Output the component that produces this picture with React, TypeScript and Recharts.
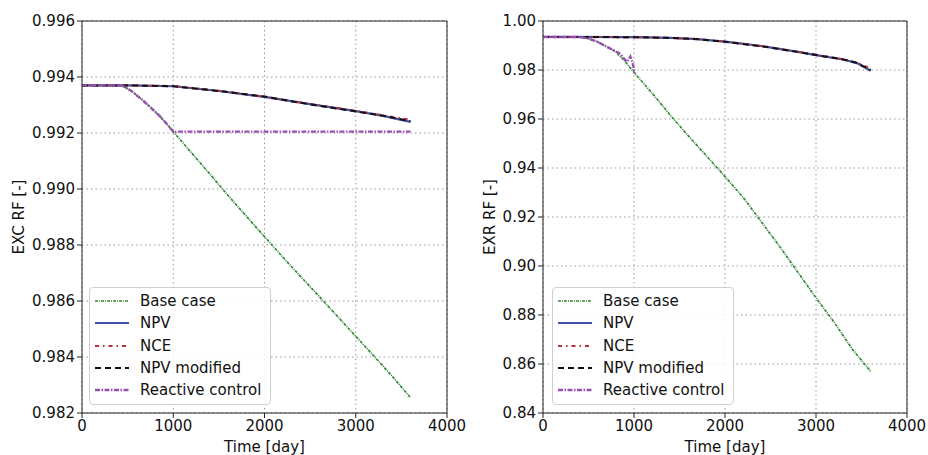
import { LineChart, Line, XAxis, YAxis, CartesianGrid, ReferenceLine, Legend } from 'recharts'

// time axis (days)
const timeTicks = [0, 1000, 2000, 3000, 4000]

// EXC RF (left panel)
const excTicks = [0.982, 0.984, 0.986, 0.988, 0.99, 0.992, 0.994, 0.996]
const excBaseT = [0, 400, 450, 550, 650, 750, 850, 925, 1000, 1200, 1400, 1600, 1800, 2000, 2200, 2400, 2600, 2800, 3000, 3200, 3400, 3600]
const excBaseV = [0.9937, 0.9937, 0.99368, 0.99348, 0.99321, 0.99292, 0.99261, 0.99234, 0.99205, 0.99129, 0.99054, 0.98977, 0.98903, 0.9883, 0.98757, 0.98686, 0.98616, 0.98545, 0.98474, 0.98403, 0.98331, 0.98255]
const excOptT = [0, 500, 1000, 1500, 2000, 2500, 3000, 3300, 3600]
const excNpvV = [0.9937, 0.9937, 0.99367, 0.9935, 0.99329, 0.99303, 0.99278, 0.99261, 0.9924]
const excNceV = [0.9937, 0.9937, 0.99368, 0.99351, 0.9933, 0.99304, 0.99279, 0.99263, 0.99247]
const excModV = [0.9937, 0.9937, 0.99367, 0.9935, 0.9933, 0.99302, 0.99277, 0.99262, 0.99242]
const excReactT = [0, 400, 450, 550, 650, 750, 850, 925, 1000, 2000, 3000, 3600]
const excReactV = [0.9937, 0.9937, 0.99368, 0.99348, 0.99321, 0.99292, 0.99261, 0.99234, 0.99205, 0.99205, 0.99205, 0.99205]

// EXR RF (right panel)
const exrTicks = [0.84, 0.86, 0.88, 0.9, 0.92, 0.94, 0.96, 0.98, 1.0]
const exrBaseT = [0, 400, 500, 600, 700, 800, 900, 1000, 1200, 1400, 1600, 1800, 2000, 2200, 2400, 2600, 2800, 3000, 3200, 3400, 3600]
const exrBaseV = [0.9935, 0.9935, 0.9928, 0.9915, 0.9895, 0.9874, 0.9836, 0.979, 0.9705, 0.9615, 0.953, 0.9448, 0.9365, 0.928, 0.918, 0.908, 0.8975, 0.887, 0.877, 0.866, 0.857]
const exrOptT = [0, 1000, 1400, 1700, 2000, 2400, 2800, 3000, 3300, 3450, 3600]
const exrNpvV = [0.9935, 0.9934, 0.9931, 0.9926, 0.9916, 0.9898, 0.9874, 0.9861, 0.9843, 0.9828, 0.9797]
const exrNceV = [0.9935, 0.9934, 0.9931, 0.9926, 0.9916, 0.9898, 0.9875, 0.9862, 0.9844, 0.983, 0.9806]
const exrModV = [0.9935, 0.9934, 0.9931, 0.9926, 0.9915, 0.9897, 0.9874, 0.9861, 0.9843, 0.9829, 0.98]
const exrReactT = [0, 400, 500, 600, 700, 800, 850, 885, 925, 960, 985, 1010]
const exrReactV = [0.9935, 0.9935, 0.9928, 0.9915, 0.9895, 0.9876, 0.9866, 0.9848, 0.9834, 0.9855, 0.9828, 0.9785]

const FONT = 'DejaVu Sans, sans-serif'

const styles = [
  { name: 'Base case', color: '#338833', width: 1.7, dash: '3 1 1 1' },
  { name: 'NPV', color: '#3f51a5', width: 2.2, dash: undefined },
  { name: 'NCE', color: '#b8303c', width: 2, dash: '4 4 1.5 4' },
  { name: 'NPV modified', color: '#111111', width: 2, dash: '6 4' },
  { name: 'Reactive control', color: '#9a4fb5', width: 2.4, dash: '5 1.5 1.5 1.5' },
]

const toPoints = (t: number[], v: number[]) => t.map((x, i) => ({ t: x, v: v[i] }))

function LegendBox() {
  return (
    <div
      style={{
        border: '1px solid #d0d0d0',
        borderRadius: 4,
        background: 'rgba(255,255,255,0.85)',
        padding: '2px 6px 3px 5px',
        fontFamily: FONT,
        fontSize: 15,
        color: '#111',
        whiteSpace: 'nowrap',
        boxSizing: 'border-box',
      }}
    >
      {styles.map((s) => (
        <div key={s.name} style={{ display: 'flex', alignItems: 'center', height: 22.3 }}>
          <svg width={34} height={10} style={{ marginRight: 11, flexShrink: 0 }}>
            <line x1={0} y1={5} x2={34} y2={5} stroke={s.color} strokeWidth={s.width} strokeDasharray={s.dash} />
          </svg>
          <span>{s.name}</span>
        </div>
      ))}
    </div>
  )
}

interface PanelProps {
  series: { t: number[]; v: number[] }[]
  yTicks: number[]
  digits: number
  yLabel: string
  yWidth: number
  rightMargin: number
  labelX: number
  legendLeft: number
}

function Panel({ series, yTicks, digits, yLabel, yWidth, rightMargin, labelX, legendLeft }: PanelProps) {
  const yMin = yTicks[0]
  const yMax = yTicks[yTicks.length - 1]
  const tick = { fontSize: 15, fill: '#111', fontFamily: FONT }
  return (
    <LineChart width={500} height={455} margin={{ top: 21, right: rightMargin, bottom: 0, left: 0 }}>
      <CartesianGrid strokeDasharray="1.5 3" stroke="#999" />
      <XAxis
        type="number"
        dataKey="t"
        domain={[0, 4000]}
        ticks={timeTicks}
        allowDataOverflow
        height={42}
        tick={tick}
        tickSize={5}
        stroke="#222"
        label={{ value: 'Time [day]', position: 'insideBottom', offset: 3, fontSize: 15, fill: '#111', fontFamily: FONT }}
      />
      <YAxis
        type="number"
        domain={[yMin, yMax]}
        ticks={yTicks}
        allowDataOverflow
        width={yWidth}
        tick={tick}
        tickSize={5}
        stroke="#222"
        tickFormatter={(v: number) => v.toFixed(digits)}
        label={(p: any) => {
          const vb = p.viewBox || {}
          const cy = (vb.y ?? 21) + (vb.height ?? 392) / 2
          return (
            <text
              x={labelX}
              y={cy}
              transform={`rotate(-90 ${labelX} ${cy})`}
              textAnchor="middle"
              dominantBaseline="central"
              fontSize={15}
              fill="#111"
              fontFamily={FONT}
            >
              {yLabel}
            </text>
          )
        }}
      />
      <ReferenceLine y={yMax} stroke="#222" />
      <ReferenceLine x={4000} stroke="#222" />
      {series.map((s, i) => (
        <Line
          key={styles[i].name}
          data={toPoints(s.t, s.v)}
          dataKey="v"
          name={styles[i].name}
          type="linear"
          stroke={styles[i].color}
          strokeWidth={styles[i].width}
          strokeDasharray={styles[i].dash}
          dot={false}
          isAnimationActive={false}
        />
      ))}
      <Legend
        layout="vertical"
        align="center"
        verticalAlign="middle"
        content={() => <LegendBox />}
        wrapperStyle={{ left: legendLeft, top: 287, width: 182, bottom: 'auto', right: 'auto' }}
      />
    </LineChart>
  )
}

export default function App() {
  return (
    <div style={{ position: 'absolute', left: 0, top: 0, width: 928, height: 455, background: '#fff', overflow: 'hidden' }}>
      <div style={{ position: 'absolute', left: 0, top: 0 }}>
        <Panel
          series={[
            { t: excBaseT, v: excBaseV },
            { t: excOptT, v: excNpvV },
            { t: excOptT, v: excNceV },
            { t: excOptT, v: excModV },
            { t: excReactT, v: excReactV },
          ]}
          yTicks={excTicks}
          digits={3}
          yLabel="EXC RF [-]"
          yWidth={82}
          rightMargin={53}
          labelX={19}
          legendLeft={89}
        />
      </div>
      <div style={{ position: 'absolute', left: 464, top: 0 }}>
        <Panel
          series={[
            { t: exrBaseT, v: exrBaseV },
            { t: exrOptT, v: exrNpvV },
            { t: exrOptT, v: exrNceV },
            { t: exrOptT, v: exrModV },
            { t: exrReactT, v: exrReactV },
          ]}
          yTicks={exrTicks}
          digits={2}
          yLabel="EXR RF [-]"
          yWidth={79}
          rightMargin={57}
          labelX={26}
          legendLeft={88}
        />
      </div>
    </div>
  )
}
